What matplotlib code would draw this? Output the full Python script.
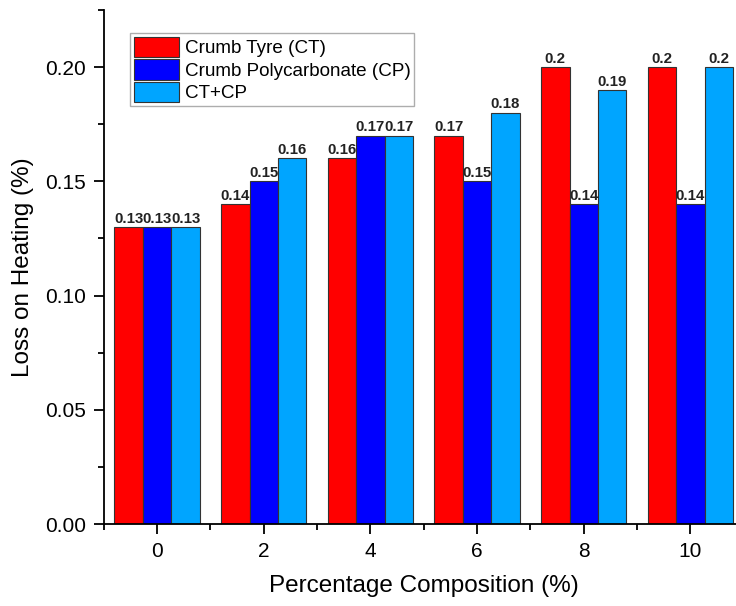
import numpy as np
import matplotlib.pyplot as plt
from matplotlib.ticker import MultipleLocator

plt.rcParams['font.family'] = ['Liberation Sans', 'DejaVu Sans']

# data
compositions = [0, 2, 4, 6, 8, 10]
ct = [0.13, 0.14, 0.16, 0.17, 0.20, 0.20]
cp = [0.13, 0.15, 0.17, 0.15, 0.14, 0.14]
ct_cp = [0.13, 0.16, 0.17, 0.18, 0.19, 0.20]
labels_ct = ['0.13', '0.14', '0.16', '0.17', '0.2', '0.2']
labels_cp = ['0.13', '0.15', '0.17', '0.15', '0.14', '0.14']
labels_ctcp = ['0.13', '0.16', '0.17', '0.18', '0.19', '0.2']
series_names = ['Crumb Tyre (CT)', 'Crumb Polycarbonate (CP)', 'CT+CP']

colors = ['#FF0000', '#0000FF', '#00A5FF']
width = 0.533

fig = plt.figure(figsize=(7.36, 6.06), dpi=100)
ax = fig.add_axes([103.8 / 736, 82 / 606, 640 / 736, 514 / 606])

x = np.array(compositions, dtype=float)
series = [ct, cp, ct_cp]
texts = [labels_ct, labels_cp, labels_ctcp]
for i, (vals, name, col, labs) in enumerate(zip(series, series_names, colors, texts)):
    bars = ax.bar(x + (i - 1) * width, vals, width, color=col, edgecolor='#333333',
                  linewidth=0.8, label=name)
    ax.bar_label(bars, labels=labs, padding=1, fontsize=10.8, fontweight='bold', color='#222222')

ax.set_xlim(-1, 11)
ax.set_ylim(0, 0.225)
ax.set_xticks(compositions)
ax.xaxis.set_minor_locator(MultipleLocator(1))
ax.yaxis.set_major_locator(MultipleLocator(0.05))
ax.yaxis.set_minor_locator(MultipleLocator(0.025))
ax.yaxis.set_major_formatter(plt.FormatStrFormatter('%.2f'))

for s in ['top', 'right']:
    ax.spines[s].set_visible(False)
for s in ['left', 'bottom']:
    ax.spines[s].set_linewidth(1.3)
ax.tick_params(which='major', direction='out', length=7, width=1.3, labelsize=15, pad=6)
ax.tick_params(which='minor', direction='out', length=4, width=1.3)

ax.set_xlabel('Percentage Composition (%)', fontsize=17.5, labelpad=10)
ax.set_ylabel('Loss on Heating (%)', fontsize=17.5, labelpad=8)

leg = ax.legend(loc='upper left', bbox_to_anchor=(26 / 640, 1 - 23 / 514), fontsize=13.6,
                frameon=True, fancybox=False, edgecolor='#999999', handlelength=2.4,
                handleheight=1.3, handletextpad=0.3, labelspacing=0.1, borderpad=0.2,
                borderaxespad=0)
leg.get_frame().set_linewidth(1.0)

fig.savefig('out.png', dpi=100)
